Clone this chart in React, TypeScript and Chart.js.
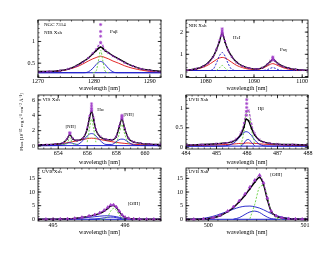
import React, { useEffect, useRef } from "react";
import { Chart, registerables } from "chart.js";
Chart.register(...registerables);

document.body.style.margin = "0";

const W = 330;
const H = 255;
const FONT = "Liberation Serif";
const PURPLE = "#a03cc8";
const RED = "#e01010";
const BLUE = "#1818c8";
const GREEN = "#66d040";

// ---------- Panel 1: Pa beta (NIR Xsh) ----------
const paBetaWave = [1270, 1272, 1274, 1275.5, 1277, 1278, 1279, 1279.8, 1280.4, 1280.8, 1281.2, 1281.6, 1282, 1282.6, 1283.4, 1284.4, 1285.5, 1287, 1288.5, 1290, 1292];
const paBetaObs = [0.31, 0.31, 0.33, 0.37, 0.45, 0.53, 0.62, 0.72, 0.79, 0.84, 0.87, 0.84, 0.79, 0.74, 0.67, 0.6, 0.52, 0.43, 0.37, 0.34, 0.31];
const paBetaModel = [0.3, 0.31, 0.33, 0.37, 0.44, 0.52, 0.62, 0.73, 0.82, 0.9, 0.96, 0.9, 0.8, 0.73, 0.66, 0.59, 0.51, 0.43, 0.37, 0.33, 0.3];
const paBetaBroad = [0.29, 0.3, 0.32, 0.36, 0.42, 0.48, 0.55, 0.6, 0.63, 0.65, 0.66, 0.65, 0.63, 0.6, 0.55, 0.5, 0.44, 0.38, 0.34, 0.31, 0.29];
const paBetaNarrow = [0.28, 0.28, 0.28, 0.28, 0.28, 0.28, 0.3, 0.38, 0.47, 0.52, 0.54, 0.52, 0.47, 0.38, 0.3, 0.28, 0.28, 0.28, 0.28, 0.28, 0.28];
const paBetaCore = [null, null, null, null, null, null, null, 0.28, 0.32, 0.55, 0.8, 0.55, 0.32, 0.28, null, null, null, null, null, null, null];
const paBetaContWave = [1270, 1292];
const paBetaCont = [0.28, 0.28];
const paBetaPeakWave = [1281.2, 1281.2, 1281.2, 1281.2];
const paBetaPeakFlux = [0.98, 1.12, 1.23, 1.39];

// ---------- Panel 2: HeI + Pa gamma (NIR Xsh) ----------
const heWave = [1076, 1078, 1079.5, 1080.5, 1081.5, 1082.2, 1082.8, 1083.4, 1084, 1084.6, 1085.4, 1086.4, 1087.6, 1089, 1090.5, 1091.8, 1092.8, 1093.4, 1093.9, 1094.4, 1095, 1096, 1097.2, 1098.6, 1100, 1101.2];
const heObs = [0.28, 0.35, 0.47, 0.62, 0.88, 1.2, 1.55, 1.95, 1.55, 1.2, 0.9, 0.64, 0.48, 0.38, 0.34, 0.4, 0.55, 0.68, 0.78, 0.7, 0.58, 0.46, 0.38, 0.32, 0.29, 0.28];
const heModel = [0.28, 0.35, 0.46, 0.6, 0.86, 1.22, 1.62, 2.05, 1.6, 1.18, 0.88, 0.63, 0.47, 0.38, 0.34, 0.4, 0.55, 0.7, 0.8, 0.7, 0.57, 0.45, 0.37, 0.32, 0.29, 0.28];
const heBroad = [0.27, 0.33, 0.42, 0.52, 0.66, 0.76, 0.83, 0.86, 0.83, 0.76, 0.64, 0.5, 0.4, 0.33, 0.32, 0.38, 0.48, 0.55, 0.58, 0.55, 0.49, 0.4, 0.33, 0.29, 0.27, 0.27];
const heNarrow = [0.27, 0.27, 0.27, 0.27, 0.32, 0.6, 0.92, 1.08, 0.92, 0.6, 0.32, 0.27, 0.27, 0.27, 0.27, 0.27, 0.31, 0.37, 0.4, 0.37, 0.31, 0.27, 0.27, 0.27, 0.27, 0.27];
const heCore = [null, null, null, null, null, 0.27, 0.38, 0.5, 0.38, 0.27, null, null, null, null, null, null, null, null, null, null, null, null, null, null, null, null];
const heContWave = [1075.9, 1101.2];
const heCont = [0.27, 0.27];
const hePeakWave = [1083.4, 1083.4, 1083.4, 1083.4, 1093.9, 1093.9, 1093.9];
const hePeakFlux = [1.85, 1.95, 2.05, 2.15, 0.74, 0.82, 0.88];

// ---------- Panel 3: H alpha + [NII] (VIS Xsh) ----------
const haWave = [652.6, 653.2, 653.8, 654.3, 654.6, 654.8, 655.0, 655.3, 655.7, 656.0, 656.15, 656.3, 656.45, 656.6, 656.9, 657.3, 657.7, 658.0, 658.2, 658.4, 658.6, 658.85, 659.2, 659.7, 660.3, 661.1];
const haObs = [0.15, 0.18, 0.24, 0.38, 0.9, 1.5, 0.95, 0.72, 1.0, 2.2, 3.6, 4.5, 3.4, 2.1, 1.2, 0.85, 0.8, 1.2, 2.4, 3.5, 2.2, 1.0, 0.55, 0.35, 0.25, 0.2];
const haModel = [0.15, 0.18, 0.25, 0.4, 0.95, 1.6, 1.0, 0.74, 1.05, 2.4, 3.9, 4.8, 3.7, 2.2, 1.25, 0.86, 0.82, 1.25, 2.6, 3.7, 2.3, 1.05, 0.56, 0.35, 0.25, 0.2];
const haBroad = [0.1, 0.15, 0.22, 0.32, 0.42, 0.5, 0.57, 0.68, 0.85, 0.96, 1.0, 1.02, 1.0, 0.96, 0.85, 0.7, 0.56, 0.47, 0.42, 0.38, 0.34, 0.29, 0.23, 0.17, 0.13, 0.1];
const haNarrow = [0.05, 0.05, 0.06, 0.15, 0.35, 0.42, 0.35, 0.2, 0.7, 1.3, 1.55, 1.62, 1.55, 1.3, 0.7, 0.2, 0.2, 0.55, 0.82, 0.9, 0.82, 0.5, 0.15, 0.06, 0.05, 0.05];
const haCore = [null, null, null, 0.2, 0.3, 1.1, 0.3, 0.2, null, 0.5, 2.2, 3.5, 2.2, 0.5, null, null, null, 0.3, 1.5, 2.8, 1.5, 0.3, null, null, null, null];
const haContWave = [652.6, 661.1];
const haCont = [0.05, 0.05];
const haPeakWave = [654.8, 654.8, 656.3, 656.3, 656.3, 656.3, 658.4, 658.4, 658.4];
const haPeakFlux = [1.6, 1.75, 4.6, 4.9, 5.2, 5.5, 3.6, 3.8, 4.0];

// ---------- Panel 4: H beta (UVB Xsh) ----------
const hbWave = [484, 484.5, 485, 485.3, 485.5, 485.65, 485.8, 485.9, 485.97, 486.05, 486.15, 486.25, 486.4, 486.55, 486.75, 487, 487.5, 488];
const hbObs = [0.06, 0.07, 0.09, 0.11, 0.14, 0.2, 0.33, 0.52, 0.72, 0.68, 0.48, 0.32, 0.19, 0.13, 0.1, 0.08, 0.07, 0.06];
const hbModel = [0.06, 0.07, 0.09, 0.11, 0.15, 0.22, 0.38, 0.62, 0.92, 0.95, 0.6, 0.36, 0.2, 0.13, 0.1, 0.08, 0.07, 0.06];
const hbBroad = [0.04, 0.05, 0.06, 0.07, 0.08, 0.09, 0.1, 0.1, 0.11, 0.11, 0.1, 0.1, 0.09, 0.08, 0.07, 0.06, 0.05, 0.04];
const hbNarrow = [0.03, 0.03, 0.03, 0.04, 0.08, 0.16, 0.3, 0.38, 0.4, 0.38, 0.3, 0.19, 0.08, 0.04, 0.03, 0.03, 0.03, 0.03];
const hbNarrow2 = [null, null, null, null, null, null, 0.03, 0.1, 0.18, 0.2, 0.12, 0.04, null, null, null, null, null, null];
const hbCore = [null, null, null, null, null, null, 0.05, 0.4, 0.85, 0.92, 0.45, 0.08, null, null, null, null, null, null];
const hbContWave = [484, 488];
const hbCont = [0.03, 0.03];
const hbPeakWave = [485.99, 485.99, 485.99, 485.99, 485.99];
const hbPeakFlux = [0.82, 0.92, 1.02, 1.12, 1.22];

// ---------- Panel 5: [OIII] 4959 (UVB Xsh) ----------
const o1Wave = [494.79, 494.9, 495.0, 495.1, 495.2, 495.3, 495.4, 495.5, 495.58, 495.65, 495.71, 495.76, 495.8, 495.84, 495.88, 495.92, 495.96, 496.0, 496.05, 496.12, 496.2, 496.3, 496.4, 496.5];
const o1Obs = [0.0, 0.02, 0.05, 0.1, 0.15, 0.35, 0.7, 1.15, 1.6, 2.2, 3.0, 4.0, 4.9, 5.1, 4.3, 2.8, 1.5, 0.7, 0.35, 0.15, 0.08, 0.04, 0.02, 0.01];
const o1Model = [0.0, 0.02, 0.05, 0.1, 0.16, 0.36, 0.72, 1.2, 1.7, 2.4, 3.3, 4.4, 5.2, 5.3, 4.5, 3.0, 1.6, 0.75, 0.35, 0.15, 0.08, 0.04, 0.02, 0.01];
const o1Broad = [0, 0, 0.02, 0.05, 0.1, 0.22, 0.42, 0.7, 0.95, 1.15, 1.28, 1.3, 1.25, 1.12, 0.95, 0.72, 0.5, 0.32, 0.17, 0.07, 0.03, 0.01, 0, 0];
const o1Narrow = [null, null, null, null, null, null, null, 0.02, 0.12, 0.3, 0.55, 0.72, 0.8, 0.76, 0.6, 0.38, 0.18, 0.05, null, null, null, null, null, null];
const o1Core = [null, null, null, null, null, null, null, null, null, 0.02, 0.1, 1.0, 3.0, 4.0, 3.3, 1.6, 0.4, 0.05, null, null, null, null, null, null];
const o1ContWave = [494.79, 496.5];
const o1Cont = [0, 0];

// ---------- Panel 6: [OIII] 5007 (UVB Xsh) ----------
const o2Wave = [499.77, 499.85, 499.95, 500.05, 500.12, 500.2, 500.26, 500.32, 500.38, 500.43, 500.48, 500.53, 500.57, 500.61, 500.65, 500.7, 500.76, 500.83, 500.9, 500.97, 501.03];
const o2Obs = [0, 0.02, 0.12, 0.55, 1.3, 2.8, 4.3, 6.4, 8.8, 11.2, 13.6, 15.4, 12.8, 7.2, 2.8, 1.2, 0.55, 0.22, 0.09, 0.04, 0.02];
const o2Model = [0, 0.02, 0.15, 0.6, 1.4, 3.0, 4.6, 6.8, 9.3, 11.8, 14.3, 16.2, 13.4, 7.8, 3.0, 1.3, 0.6, 0.25, 0.1, 0.04, 0.02];
const o2Broad = [0, 0.05, 0.35, 1.1, 1.9, 2.9, 3.7, 4.4, 4.8, 4.85, 4.6, 4.1, 3.5, 2.8, 2.1, 1.4, 0.8, 0.35, 0.12, 0.03, 0];
const o2Narrow = [null, null, null, null, null, null, 0.05, 0.6, 1.8, 2.7, 3.0, 2.5, 1.6, 0.8, 0.25, 0.03, null, null, null, null, null];
const o2Core = [null, null, null, null, null, null, null, null, null, 0.2, 5.5, 11.8, 12.4, 8.5, 3.2, 0.5, 0.05, null, null, null, null];
const o2ContWave = [499.77, 501.03];
const o2Cont = [0, 0];

// ---------- tick labels ----------
const p1XTicks = [1270, 1280, 1290];
const p1YTicks = [0.5, 1];
const p2XTicks = [1080, 1090, 1100];
const p2YTicks = [0, 1, 2];
const p3XTicks = [654, 656, 658, 660];
const p3YTicks = [0, 2, 4, 6];
const p4XTicks = [484, 485, 486, 487, 488];
const p4YTicks = [0, 0.5, 1];
const p5XTicks = [495, 496];
const p5YTicks = [0, 5, 10, 15];
const p6XTicks = [500, 501];
const p6YTicks = [0, 5, 10, 15];

const X_TITLE = "wavelength [nm]";
const Y_TITLE = "Flux [10\u207B\u00B9\u2075 erg s\u207B\u00B9 cm\u207B\u00B2 \u00C5\u207B\u00B9]";

type Lbl = { text: string; x: number; y: number; align: CanvasTextAlign };
type Panel = {
  area: [number, number, number, number];
  yW: number;
  xH: number;
  xr: [number, number];
  yr: [number, number];
  xTicks: number[];
  yTicks: number[];
  xMinor: number;
  yMinor: number;
  yTitle?: string;
  tags: string[];
  tagOff: [number, number];
  labels: Lbl[];
  datasets: any[];
};

const pts = (xs: number[], ys: (number | null)[]) => xs.map((x, i) => ({ x, y: ys[i] }));

function build(
  wave: number[], obs: number[], model: number[], broad: number[], narrow: (number | null)[],
  core: (number | null)[], contW: number[], cont: number[], peakW: number[] | null, peakF: number[] | null,
  o: { broadColor: string; narrowDash?: number[]; marker: string; narrow2?: (number | null)[] }
) {
  const list: any[] = [];
  if (peakW && peakF) {
    list.push({ data: pts(peakW, peakF), showLine: false, pointStyle: "star", pointRadius: 1.6, borderColor: PURPLE, pointBorderColor: PURPLE, pointBorderWidth: 0.7 });
  }
  list.push({ data: pts(wave, model), borderColor: PURPLE, borderWidth: 0.9, borderDash: [2.5, 1.5], pointStyle: o.marker, pointRadius: o.marker === "triangle" ? 1.7 : 1.4, pointBorderColor: PURPLE, pointBackgroundColor: PURPLE, pointBorderWidth: 0.7, cubicInterpolationMode: "monotone" });
  list.push({ data: pts(wave, obs), borderColor: "#000", borderWidth: 1.4, pointRadius: 0.9, pointBackgroundColor: "#000", pointBorderWidth: 0, cubicInterpolationMode: "monotone" });
  list.push({ data: pts(wave, core), borderColor: GREEN, borderWidth: 0.9, borderDash: [2, 1.5], pointRadius: 0, spanGaps: false, cubicInterpolationMode: "monotone" });
  if (o.narrow2) {
    list.push({ data: pts(wave, o.narrow2), borderColor: BLUE, borderWidth: 0.9, pointRadius: 0, spanGaps: false, cubicInterpolationMode: "monotone" });
  }
  list.push({ data: pts(wave, narrow), borderColor: BLUE, borderWidth: 0.9, borderDash: o.narrowDash || [], pointRadius: 0, spanGaps: false, cubicInterpolationMode: "monotone" });
  list.push({ data: pts(wave, broad), borderColor: o.broadColor, borderWidth: 0.9, pointRadius: 0, cubicInterpolationMode: "monotone" });
  list.push({ data: pts(contW, cont), borderColor: BLUE, borderWidth: 1, pointRadius: 0 });
  return list;
}

const panels: Panel[] = [
  {
    area: [38, 20, 161, 77.5], yW: 19, xH: 14,
    xr: [1270, 1292], yr: [0.17, 1.495],
    xTicks: p1XTicks, yTicks: p1YTicks, xMinor: 2, yMinor: 0.1,
    tags: ["NGC 7314", "NIR Xsh"], tagOff: [6, 5],
    labels: [{ text: "Pa\u03B2", x: 1282.9, y: 1.22, align: "left" }],
    datasets: build(paBetaWave, paBetaObs, paBetaModel, paBetaBroad, paBetaNarrow, paBetaCore, paBetaContWave, paBetaCont, paBetaPeakWave, paBetaPeakFlux, { broadColor: RED, marker: "crossRot" }),
  },
  {
    area: [186, 20, 308, 77.5], yW: 20, xH: 14,
    xr: [1075.9, 1101.2], yr: [-0.045, 2.545],
    xTicks: p2XTicks, yTicks: p2YTicks, xMinor: 2, yMinor: 0.2,
    tags: ["NIR Xsh"], tagOff: [2.5, 6],
    labels: [
      { text: "HeI", x: 1085.65, y: 1.75, align: "left" },
      { text: "Pa\u03B3", x: 1095.4, y: 1.21, align: "left" },
    ],
    datasets: build(heWave, heObs, heModel, heBroad, heNarrow, heCore, heContWave, heCont, hePeakWave, hePeakFlux, { broadColor: RED, marker: "crossRot", narrowDash: [2, 1.5] }),
  },
  {
    area: [38, 95, 161, 149], yW: 19, xH: 16,
    xr: [652.6, 661.1], yr: [-0.39, 6.65],
    xTicks: p3XTicks, yTicks: p3YTicks, xMinor: 0.5, yMinor: 0.5,
    yTitle: Y_TITLE,
    tags: ["VIS Xsh"], tagOff: [4.5, 5],
    labels: [
      { text: "[NII]", x: 654.85, y: 2.5, align: "center" },
      { text: "H\u03B1", x: 656.7, y: 4.7, align: "left" },
      { text: "[NII]", x: 658.5, y: 4.05, align: "left" },
    ],
    datasets: build(haWave, haObs, haModel, haBroad, haNarrow, haCore, haContWave, haCont, haPeakWave, haPeakFlux, { broadColor: RED, marker: "crossRot" }),
  },
  {
    area: [186, 95, 308, 149], yW: 20, xH: 16,
    xr: [484, 488], yr: [-0.044, 1.34],
    xTicks: p4XTicks, yTicks: p4YTicks, xMinor: 0.2, yMinor: 0.1,
    tags: ["UVB Xsh"], tagOff: [2.5, 4.5],
    labels: [{ text: "H\u03B2", x: 486.35, y: 1.0, align: "left" }],
    datasets: build(hbWave, hbObs, hbModel, hbBroad, hbNarrow, hbCore, hbContWave, hbCont, hbPeakWave, hbPeakFlux, { broadColor: RED, marker: "crossRot", narrow2: hbNarrow2 }),
  },
  {
    area: [38, 168, 161, 221], yW: 19, xH: 14,
    xr: [494.79, 496.5], yr: [-0.62, 18.8],
    xTicks: p5XTicks, yTicks: p5YTicks, xMinor: 0.1, yMinor: 1,
    tags: ["UVB Xsh"], tagOff: [4, 4],
    labels: [{ text: "[OIII]", x: 496.04, y: 5.9, align: "left" }],
    datasets: build(o1Wave, o1Obs, o1Model, o1Broad, o1Narrow, o1Core, o1ContWave, o1Cont, null, null, { broadColor: BLUE, marker: "triangle" }),
  },
  {
    area: [186, 168, 308, 221], yW: 20, xH: 14,
    xr: [499.77, 501.03], yr: [-0.62, 18.8],
    xTicks: p6XTicks, yTicks: p6YTicks, xMinor: 0.1, yMinor: 1,
    tags: ["UVB Xsh"], tagOff: [2.5, 4],
    labels: [{ text: "[OIII]", x: 500.64, y: 16.2, align: "left" }],
    datasets: build(o2Wave, o2Obs, o2Model, o2Broad, o2Narrow, o2Core, o2ContWave, o2Cont, null, null, { broadColor: BLUE, marker: "triangle" }),
  },
];

function framePlugin(p: Panel) {
  return {
    id: "frame",
    afterDatasetsDraw(chart: any) {
      const { ctx, chartArea: a, scales } = chart;
      const xs = scales.x;
      const ys = scales.y;
      ctx.save();
      ctx.strokeStyle = "#000";
      ctx.lineWidth = 0.8;
      ctx.strokeRect(a.left, a.top, a.right - a.left, a.bottom - a.top);
      const line = (x1: number, y1: number, x2: number, y2: number) => {
        ctx.beginPath();
        ctx.moveTo(x1, y1);
        ctx.lineTo(x2, y2);
        ctx.stroke();
      };
      const doX = (v: number, len: number) => {
        const px = xs.getPixelForValue(v);
        if (px < a.left - 0.3 || px > a.right + 0.3) return;
        line(px, a.bottom, px, a.bottom - len);
        line(px, a.top, px, a.top + len);
      };
      const doY = (v: number, len: number) => {
        const py = ys.getPixelForValue(v);
        if (py < a.top - 0.3 || py > a.bottom + 0.3) return;
        line(a.left, py, a.left + len, py);
        line(a.right, py, a.right - len, py);
      };
      ctx.lineWidth = 0.6;
      for (let k = Math.ceil(p.xr[0] / p.xMinor - 1e-6); k <= Math.floor(p.xr[1] / p.xMinor + 1e-6); k++) doX(k * p.xMinor, 1.6);
      for (let k = Math.ceil(p.yr[0] / p.yMinor - 1e-6); k <= Math.floor(p.yr[1] / p.yMinor + 1e-6); k++) doY(k * p.yMinor, 1.6);
      ctx.lineWidth = 0.8;
      p.xTicks.forEach((v) => doX(v, 3.2));
      p.yTicks.forEach((v) => doY(v, 3.2));

      ctx.fillStyle = "#000";
      ctx.font = `5px "${FONT}"`;
      ctx.textBaseline = "middle";
      ctx.textAlign = "left";
      p.tags.forEach((t, i) => ctx.fillText(t, a.left + p.tagOff[0], a.top + p.tagOff[1] + i * 7.5));
      p.labels.forEach((l) => {
        ctx.textAlign = l.align;
        ctx.fillText(l.text, xs.getPixelForValue(l.x), ys.getPixelForValue(l.y));
      });
      ctx.restore();
    },
  };
}

function makeConfig(p: Panel): any {
  const font = { family: FONT, size: 6, lineHeight: 1 };
  return {
    type: "line",
    data: { datasets: p.datasets },
    options: {
      responsive: false,
      maintainAspectRatio: false,
      animation: false,
      devicePixelRatio: 1,
      events: [],
      layout: {
        padding: {
          left: p.area[0] - p.yW,
          top: p.area[1],
          right: W - p.area[2],
          bottom: H - p.area[3] - p.xH,
        },
      },
      plugins: { legend: { display: false }, tooltip: { enabled: false } },
      scales: {
        x: {
          type: "linear",
          min: p.xr[0],
          max: p.xr[1],
          afterBuildTicks: (s: any) => { s.ticks = p.xTicks.map((v) => ({ value: v })); },
          afterFit: (s: any) => { s.height = p.xH; },
          grid: { display: false, drawTicks: false },
          border: { display: false },
          ticks: { autoSkip: false, maxRotation: 0, padding: 1, color: "#000", font, callback: (v: number) => String(v) },
          title: { display: true, text: X_TITLE, color: "#000", font, padding: 0 },
        },
        y: {
          type: "linear",
          min: p.yr[0],
          max: p.yr[1],
          afterBuildTicks: (s: any) => { s.ticks = p.yTicks.map((v) => ({ value: v })); },
          afterFit: (s: any) => { s.width = p.yW; },
          grid: { display: false, drawTicks: false },
          border: { display: false },
          ticks: { autoSkip: false, padding: 3, color: "#000", font, callback: (v: number) => String(v) },
          title: p.yTitle
            ? { display: true, text: p.yTitle, color: "#000", font: { family: FONT, size: 5, lineHeight: 1 }, padding: 0 }
            : { display: false },
        },
      },
    },
    plugins: [framePlugin(p)],
  };
}

function PanelChart({ panel }: { panel: Panel }) {
  const ref = useRef<HTMLCanvasElement>(null);
  useEffect(() => {
    const chart = new Chart(ref.current as HTMLCanvasElement, makeConfig(panel));
    return () => chart.destroy();
  }, [panel]);
  return (
    <canvas
      ref={ref}
      width={W}
      height={H}
      style={{ position: "absolute", left: 0, top: 0, width: W, height: H }}
    />
  );
}

export default function App() {
  return (
    <div style={{ position: "relative", width: W, height: H, background: "#fff", overflow: "hidden" }}>
      {panels.map((p, i) => (
        <PanelChart key={i} panel={p} />
      ))}
    </div>
  );
}
